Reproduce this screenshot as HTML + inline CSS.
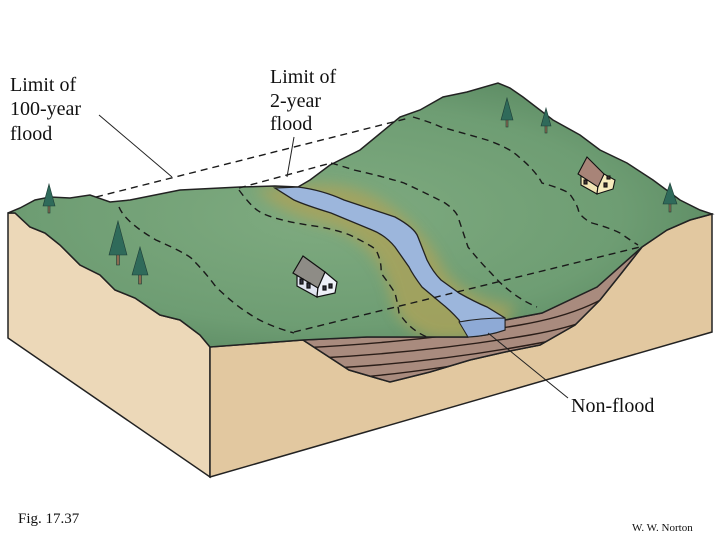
<!DOCTYPE html>
<html><head><meta charset="utf-8"><style>
html,body{margin:0;padding:0;background:#fff;width:720px;height:540px;overflow:hidden}
svg{display:block}
text{font-family:"Liberation Serif",serif;fill:#111}
</style></head><body>
<svg width="720" height="540" viewBox="0 0 720 540" xmlns="http://www.w3.org/2000/svg">
<defs>
<radialGradient id="g1" cx="0.45" cy="0.5" r="0.7">
<stop offset="0" stop-color="#7fab80"/><stop offset="0.6" stop-color="#6e9d73"/><stop offset="1" stop-color="#4f7e58"/>
</radialGradient>
<filter id="blur" x="-20%" y="-20%" width="140%" height="140%"><feGaussianBlur stdDeviation="7"/></filter>
<clipPath id="strataClip"><polygon points="303,340 367,337 468,337 505,320 542,313 597,287 642,247 620,275 600,300 575,325 540,345 505,352 470,360 430,372 390,382 349,370"/></clipPath>
<clipPath id="topClip"><path d="M8,213 L20,208 35,200 50,197 70,198 90,195 110,202 130,200 180,190 240,187 275,186 298,187 310,180 330,165 360,150 400,117 420,110 443,97 467,92 498,83 510,88 523,97 553,120 580,135 600,150 627,163 653,180 680,200 700,210 712,214 690,220 667,230 642,247 597,287 542,313 505,320 468,337 436,337 367,337 303,340 210,347 200,335 180,320 160,315 135,298 115,290 100,275 80,265 60,245 45,233 30,227 15,213 Z"/></clipPath>
</defs>
<!-- left face -->
<polygon points="8,213 8,338 210,477 210,347 200,335 180,320 160,315 135,298 115,290 100,275 80,265 60,245 45,233 30,227 15,213" fill="#ecd8b8" stroke="#222" stroke-width="1.5"/>
<!-- front face -->
<polygon points="210,347 303,340 349,370 390,382 430,372 470,360 505,352 540,345 575,325 600,300 620,275 642,247 667,230 690,220 712,214 712,332 210,477" fill="#e2c8a0" stroke="#222" stroke-width="1.5"/>
<!-- strata -->
<polygon points="303,340 367,337 468,337 505,320 542,313 597,287 642,247 620,275 600,300 575,325 540,345 505,352 470,360 430,372 390,382 349,370" fill="#a98b7e"/>
<g stroke="#2a1d18" stroke-width="1.4" fill="none" clip-path="url(#strataClip)">
<path d="M300,348 Q420,342 520,325 T650,255"/>
<path d="M320,358 Q430,352 530,335 T650,270"/>
<path d="M335,368 Q440,362 545,342 T650,285"/>
<path d="M350,378 Q450,370 560,345 T650,300"/>
</g>
<polygon points="303,340 367,337 468,337 505,320 542,313 597,287 642,247 620,275 600,300 575,325 540,345 505,352 470,360 430,372 390,382 349,370" fill="none" stroke="#222" stroke-width="1.5"/>
<!-- top surface -->
<path d="M8,213 L20,208 35,200 50,197 70,198 90,195 110,202 130,200 180,190 240,187 275,186 298,187 310,180 330,165 360,150 400,117 420,110 443,97 467,92 498,83 510,88 523,97 553,120 580,135 600,150 627,163 653,180 680,200 700,210 712,214 690,220 667,230 642,247 597,287 542,313 505,320 468,337 436,337 367,337 303,340 210,347 200,335 180,320 160,315 135,298 115,290 100,275 80,265 60,245 45,233 30,227 15,213 Z" fill="url(#g1)"/>
<!-- olive flood zone (soft) -->
<g clip-path="url(#topClip)">
<path d="M255,188 L300,186 Q345,180 380,200 Q425,228 445,272 Q468,300 515,306 L505,325 468,340 436,340 Q400,330 392,300 Q382,245 330,226 Q280,214 255,188 Z" fill="#a9a35c" opacity="0.85" filter="url(#blur)"/>
<path d="M440,337 L470,337 505,320 542,313 520,322 490,335 460,340Z" fill="#e8d6a0"/>
</g>
<path d="M8,213 L20,208 35,200 50,197 70,198 90,195 110,202 130,200 180,190 240,187 275,186 298,187 310,180 330,165 360,150 400,117 420,110 443,97 467,92 498,83 510,88 523,97 553,120 580,135 600,150 627,163 653,180 680,200 700,210 712,214 690,220 667,230 642,247 597,287 542,313 505,320 468,337 436,337 367,337 303,340 210,347 200,335 180,320 160,315 135,298 115,290 100,275 80,265 60,245 45,233 30,227 15,213 Z" fill="none" stroke="#222" stroke-width="1.5"/>
<!-- river -->
<path d="M275,188 L298,187 Q322,190 344,200 Q380,212 395,217 Q415,228 418,237 L427,260 Q433,272 441,280 L459,293 Q475,302 487,307 L505,318 L505,330 Q488,336 468,337 L459,320 Q450,310 441,303 L422,287 Q413,275 409,267 L395,247 Q385,235 372,230 L331,213 Q305,205 294,200 Z" fill="#9cb6dc" stroke="#222" stroke-width="1.3"/>
<path d="M459,322 Q480,318 505,318 L505,330 Q488,336 468,337Z" fill="#8eaad6" stroke="#222" stroke-width="1"/>
<!-- dashed lines -->
<g stroke="#1a1a1a" stroke-width="1.4" fill="none" stroke-dasharray="7,5">
<path d="M96,197 L409,118"/>
<path d="M239,188 L331,163"/>
<path d="M119,207 Q125,222 156,240 Q190,255 193,260 Q205,272 216,287 Q235,305 248,313 Q265,325 294,333"/>
<path d="M239,190 Q250,205 257,210 Q270,220 321,227 Q345,232 354,237 Q374,247 376,250 Q382,262 381,273 Q390,285 395,293 Q398,305 399,313 Q410,330 427,337"/>
<path d="M331,163 Q345,167 354,170 Q385,177 404,183 Q430,195 445,203 Q458,212 459,220 Q465,238 468,247 Q480,262 491,273 Q500,283 505,287 Q520,300 537,307"/>
<path d="M413,117 Q430,122 441,127 Q470,135 487,140 Q510,148 519,157 Q535,170 542,183 Q560,188 569,193 Q578,205 579,213 Q585,220 592,223 Q610,228 620,233 Q630,240 638,245"/>
<path d="M294,332 L640,247"/>
</g>
<!-- leaders -->
<g stroke="#222" stroke-width="1" fill="none">
<path d="M99,115 L172,177"/>
<path d="M294,137 L287,177"/>
<path d="M488,333 L568,398"/>
</g>
<!-- trees -->
<g fill="#2f6a5a" stroke="#1d3d36" stroke-width="0.6">
<g transform="translate(49,198)"><rect x="-1" y="6" width="2" height="9" fill="#8a6a50"/><polygon points="0,-14 -6,8 6,8"/></g>
<g transform="translate(118,243)"><rect x="-1.5" y="10" width="3" height="12" fill="#8a6a50"/><polygon points="0,-22 -9,12 9,12"/></g>
<g transform="translate(140,265)"><rect x="-1.5" y="9" width="3" height="10" fill="#8a6a50"/><polygon points="0,-18 -8,10 8,10"/></g>
<g transform="translate(507,113)"><rect x="-1" y="6" width="2" height="8" fill="#8a6a50"/><polygon points="0,-15 -6,7 6,7"/></g>
<g transform="translate(546,120)"><rect x="-1" y="5" width="2" height="8" fill="#8a6a50"/><polygon points="0,-12 -5,6 5,6"/></g>
<g transform="translate(670,197)"><rect x="-1" y="6" width="2" height="9" fill="#8a6a50"/><polygon points="0,-14 -7,7 7,7"/></g>
</g>
<!-- house center -->
<g stroke="#111" stroke-width="1.2">
<polygon points="297,275 318,287 317,297 297,286" fill="#dfe3ef"/>
<polygon points="318,287 325,272 337,282 335,293 317,297" fill="#eef0f8"/>
<polygon points="293,273 303,256 325,272 318,288" fill="#8e8c86"/>
<rect x="300" y="279" width="3" height="5" fill="#334"/><rect x="307" y="283" width="3" height="5" fill="#334"/>
<rect x="323" y="286" width="3" height="4" fill="#334"/><rect x="329" y="284" width="3" height="4" fill="#334"/>
</g>
<!-- house right -->
<g stroke="#111" stroke-width="1.1">
<polygon points="581,176 598,186 597,194 581,185" fill="#f1e4b4"/>
<polygon points="598,186 604,174 615,180 613,189 597,194" fill="#f7ebbd"/>
<polygon points="578,174 587,157 604,174 598,187" fill="#a88478"/>
<rect x="584" y="180" width="3" height="4" fill="#433"/><rect x="604" y="183" width="3" height="4" fill="#433"/><rect x="607" y="176" width="3" height="3" fill="#433"/>
</g>
<!-- labels -->
<text x="10" y="91" font-size="20">Limit of</text>
<text x="10" y="115" font-size="20">100-year</text>
<text x="10" y="140" font-size="20">flood</text>
<text x="270" y="83" font-size="20">Limit of</text>
<text x="270" y="107" font-size="20">2-year</text>
<text x="270" y="130" font-size="20">flood</text>
<text x="571" y="412" font-size="20">Non-flood</text>
<text x="18" y="523" font-size="15">Fig. 17.37</text>
<text x="632" y="531" font-size="11">W. W. Norton</text>
</svg>
</body></html>
